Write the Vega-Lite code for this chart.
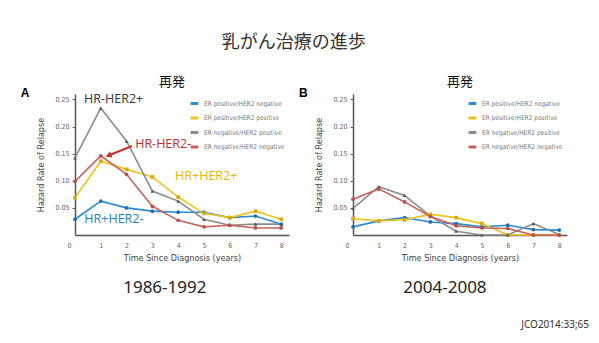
{
  "$schema": "https://vega.github.io/schema/vega-lite/v6.json",
  "background": "white",
  "padding": {"left": 20, "top": 33, "right": 5, "bottom": 5},
  "datasets": {
    "a": [
      {"t":0,"rate":0.029,"group":"ER positive/HER2 negative"},
      {"t":1,"rate":0.0625,"group":"ER positive/HER2 negative"},
      {"t":2,"rate":0.050,"group":"ER positive/HER2 negative"},
      {"t":3,"rate":0.044,"group":"ER positive/HER2 negative"},
      {"t":4,"rate":0.042,"group":"ER positive/HER2 negative"},
      {"t":5,"rate":0.042,"group":"ER positive/HER2 negative"},
      {"t":6,"rate":0.032,"group":"ER positive/HER2 negative"},
      {"t":7,"rate":0.035,"group":"ER positive/HER2 negative"},
      {"t":8,"rate":0.020,"group":"ER positive/HER2 negative"},
      {"t":0,"rate":0.069,"group":"ER positive/HER2 positive"},
      {"t":1,"rate":0.136,"group":"ER positive/HER2 positive"},
      {"t":2,"rate":0.121,"group":"ER positive/HER2 positive"},
      {"t":3,"rate":0.107,"group":"ER positive/HER2 positive"},
      {"t":4,"rate":0.070,"group":"ER positive/HER2 positive"},
      {"t":5,"rate":0.040,"group":"ER positive/HER2 positive"},
      {"t":6,"rate":0.032,"group":"ER positive/HER2 positive"},
      {"t":7,"rate":0.044,"group":"ER positive/HER2 positive"},
      {"t":8,"rate":0.029,"group":"ER positive/HER2 positive"},
      {"t":0,"rate":0.142,"group":"ER negative/HER2 positive"},
      {"t":1,"rate":0.234,"group":"ER negative/HER2 positive"},
      {"t":2,"rate":0.173,"group":"ER negative/HER2 positive"},
      {"t":3,"rate":0.081,"group":"ER negative/HER2 positive"},
      {"t":4,"rate":0.0625,"group":"ER negative/HER2 positive"},
      {"t":5,"rate":0.029,"group":"ER negative/HER2 positive"},
      {"t":6,"rate":0.018,"group":"ER negative/HER2 positive"},
      {"t":7,"rate":0.020,"group":"ER negative/HER2 positive"},
      {"t":8,"rate":0.020,"group":"ER negative/HER2 positive"},
      {"t":0,"rate":0.099,"group":"ER negative/HER2 negative"},
      {"t":1,"rate":0.146,"group":"ER negative/HER2 negative"},
      {"t":2,"rate":0.112,"group":"ER negative/HER2 negative"},
      {"t":3,"rate":0.053,"group":"ER negative/HER2 negative"},
      {"t":4,"rate":0.027,"group":"ER negative/HER2 negative"},
      {"t":5,"rate":0.015,"group":"ER negative/HER2 negative"},
      {"t":6,"rate":0.018,"group":"ER negative/HER2 negative"},
      {"t":7,"rate":0.013,"group":"ER negative/HER2 negative"},
      {"t":8,"rate":0.013,"group":"ER negative/HER2 negative"}
    ],
    "b": [
      {"t":0,"rate":0.015,"group":"ER positive/HER2 negative"},
      {"t":1,"rate":0.026,"group":"ER positive/HER2 negative"},
      {"t":2,"rate":0.032,"group":"ER positive/HER2 negative"},
      {"t":3,"rate":0.024,"group":"ER positive/HER2 negative"},
      {"t":4,"rate":0.021,"group":"ER positive/HER2 negative"},
      {"t":5,"rate":0.015,"group":"ER positive/HER2 negative"},
      {"t":6,"rate":0.018,"group":"ER positive/HER2 negative"},
      {"t":7,"rate":0.010,"group":"ER positive/HER2 negative"},
      {"t":8,"rate":0.009,"group":"ER positive/HER2 negative"},
      {"t":0,"rate":0.030,"group":"ER positive/HER2 positive"},
      {"t":1,"rate":0.026,"group":"ER positive/HER2 positive"},
      {"t":2,"rate":0.028,"group":"ER positive/HER2 positive"},
      {"t":3,"rate":0.038,"group":"ER positive/HER2 positive"},
      {"t":4,"rate":0.032,"group":"ER positive/HER2 positive"},
      {"t":5,"rate":0.021,"group":"ER positive/HER2 positive"},
      {"t":6,"rate":0.0,"group":"ER positive/HER2 positive"},
      {"t":7,"rate":0.0,"group":"ER positive/HER2 positive"},
      {"t":8,"rate":0.0,"group":"ER positive/HER2 positive"},
      {"t":0,"rate":0.049,"group":"ER negative/HER2 positive"},
      {"t":1,"rate":0.089,"group":"ER negative/HER2 positive"},
      {"t":2,"rate":0.073,"group":"ER negative/HER2 positive"},
      {"t":3,"rate":0.035,"group":"ER negative/HER2 positive"},
      {"t":4,"rate":0.007,"group":"ER negative/HER2 positive"},
      {"t":5,"rate":0.0,"group":"ER negative/HER2 positive"},
      {"t":6,"rate":0.0,"group":"ER negative/HER2 positive"},
      {"t":7,"rate":0.021,"group":"ER negative/HER2 positive"},
      {"t":8,"rate":0.001,"group":"ER negative/HER2 positive"},
      {"t":0,"rate":0.066,"group":"ER negative/HER2 negative"},
      {"t":1,"rate":0.085,"group":"ER negative/HER2 negative"},
      {"t":2,"rate":0.061,"group":"ER negative/HER2 negative"},
      {"t":3,"rate":0.034,"group":"ER negative/HER2 negative"},
      {"t":4,"rate":0.017,"group":"ER negative/HER2 negative"},
      {"t":5,"rate":0.013,"group":"ER negative/HER2 negative"},
      {"t":6,"rate":0.012,"group":"ER negative/HER2 negative"},
      {"t":7,"rate":0.0,"group":"ER negative/HER2 negative"},
      {"t":8,"rate":0.0,"group":"ER negative/HER2 negative"}
    ],
    "labelsA": [
      {"t":1.5,"rate":0.25,"label":"HR-HER2+","c":"#333333"},
      {"t":3.42,"rate":0.167,"label":"HR-HER2-","c":"#c0302a"},
      {"t":5.09,"rate":0.108,"label":"HR+HER2+","c":"#e6b800"},
      {"t":1.51,"rate":0.029,"label":"HR+HER2-","c":"#1f7fc8"}
    ],
    "letterA": [{"t":-1.94,"rate":0.262,"label":"A"}],
    "letterB": [{"t":-1.93,"rate":0.262,"label":"B"}],
    "arrowA": [
      {"t":2.21,"rate":0.164,"t2":1.3,"rate2":0.1465}
    ]
  },
  "title": {"text": "JCO2014:33;65", "orient": "bottom", "anchor": "end", "font": "Noto Sans", "fontSize": 10, "fontWeight": "normal", "color": "#333", "offset": 24, "dx": 22},
  "vconcat": [
    {
      "title": {"text": "乳がん治療の進歩", "font": "Noto Sans CJK JP", "fontSize": 18, "fontWeight": "normal", "color": "#333", "anchor": "middle", "offset": 24},
      "spacing": 9,
      "resolve": {"scale": {"x": "independent", "y": "independent", "color": "independent", "fill": "independent", "shape": "independent"}, "legend": {"color": "independent"}},
      "hconcat": [
        {
          "title": {"text": "1986-1992", "orient": "bottom", "anchor": "middle", "font": "Noto Sans", "fontSize": 17, "fontWeight": "normal", "color": "#222", "offset": 18, "dx": 10},
          "resolve": {"legend": {"color": "independent"}},
          "vconcat": [
            {
              "title": {"text": "再発", "font": "Noto Sans CJK JP", "fontSize": 13, "fontWeight": "normal", "color": "#111", "anchor": "middle", "frame": "group", "dx": -10, "offset": -2},
              "width": 214, "height": 141,
              "layer": [
                {
                  "data": {"name": "a"},
                  "mark": {"type": "line", "strokeWidth": 1.6},
                  "encoding": {
                    "x": {"field": "t", "type": "quantitative", "scale": {"domain": [0, 8.3], "nice": false}, "axis": {"values": [0,1,2,3,4,5,6,7,8], "tickCount": 20, "format": "d", "labelOverlap": false, "title": "Time Since Diagnosis (years)", "ticks": false, "labelPadding": 6, "labelOffset": {"condition": {"test": "datum.value === 0", "value": -8}, "value": 0}}},
                    "y": {"field": "rate", "type": "quantitative", "scale": {"domain": [0, 0.26], "nice": false}, "axis": {"values": [0.05,0.1,0.15,0.2,0.25], "tickCount": 20, "labelOverlap": false, "format": ".2f", "title": "Hazard Rate of Relapse"}},
                    "color": {"field": "group", "type": "nominal", "scale": {"domain": ["ER positive/HER2 negative","ER positive/HER2 positive","ER negative/HER2 positive","ER negative/HER2 negative"], "range": ["#2b8bd4","#f0c21c","#8c8c8c","#c9625b"]}, "legend": {"title": null}}
                  }
                },
                {
                  "data": {"name": "a"},
                  "mark": {"type": "point", "filled": true, "size": 14, "opacity": 1},
                  "encoding": {
                    "x": {"field": "t", "type": "quantitative"},
                    "y": {"field": "rate", "type": "quantitative"},
                    "fill": {"field": "group", "type": "nominal", "scale": {"domain": ["ER positive/HER2 negative","ER positive/HER2 positive","ER negative/HER2 positive","ER negative/HER2 negative"], "range": ["#1c6fb0","#d9ad10","#555555","#b5504a"]}, "legend": null},
                    "shape": {"field": "group", "type": "nominal", "scale": {"domain": ["ER positive/HER2 negative","ER positive/HER2 positive","ER negative/HER2 positive","ER negative/HER2 negative"], "range": ["circle","square","triangle-up","circle"]}, "legend": null}
                  }
                },
                {
                  "data": {"name": "arrowA"},
                  "mark": {"type": "rule", "color": "#d0302a", "strokeWidth": 2.2},
                  "encoding": {
                    "x": {"field": "t", "type": "quantitative"},
                    "y": {"field": "rate", "type": "quantitative"},
                    "x2": {"field": "t2"},
                    "y2": {"field": "rate2"}
                  }
                },
                {
                  "data": {"name": "arrowA"},
                  "mark": {"type": "point", "shape": "triangle-up", "filled": true, "color": "#d0302a", "size": 45, "angle": 248, "opacity": 1},
                  "encoding": {
                    "x": {"field": "t2", "type": "quantitative"},
                    "y": {"field": "rate2", "type": "quantitative"}
                  }
                },
                {
                  "data": {"name": "labelsA"},
                  "mark": {"type": "text", "font": "Open Sans", "fontSize": 12.5},
                  "encoding": {
                    "x": {"field": "t", "type": "quantitative"},
                    "y": {"field": "rate", "type": "quantitative"},
                    "text": {"field": "label"},
                    "color": {"field": "c", "type": "nominal", "scale": null}
                  }
                },
                {
                  "data": {"name": "letterA"},
                  "mark": {"type": "text", "font": "Liberation Sans", "fontSize": 12, "fontWeight": "bold", "color": "#000"},
                  "encoding": {
                    "x": {"field": "t", "type": "quantitative"},
                    "y": {"field": "rate", "type": "quantitative"},
                    "text": {"field": "label"}
                  }
                }
              ]
            }
          ]
        },
        {
          "title": {"text": "2004-2008", "orient": "bottom", "anchor": "middle", "font": "Noto Sans", "fontSize": 17, "fontWeight": "normal", "color": "#222", "offset": 18, "dx": 12},
          "resolve": {"legend": {"color": "independent"}},
          "vconcat": [
            {
              "title": {"text": "再発", "font": "Noto Sans CJK JP", "fontSize": 13, "fontWeight": "normal", "color": "#111", "anchor": "middle", "frame": "group", "dx": 0, "offset": -2},
              "width": 214, "height": 141,
              "layer": [
                {
                  "data": {"name": "b"},
                  "mark": {"type": "line", "strokeWidth": 1.6},
                  "encoding": {
                    "x": {"field": "t", "type": "quantitative", "scale": {"domain": [0, 8.3], "nice": false}, "axis": {"values": [0,1,2,3,4,5,6,7,8], "tickCount": 20, "format": "d", "labelOverlap": false, "title": "Time Since Diagnosis (years)", "ticks": false, "labelPadding": 6, "labelOffset": {"condition": {"test": "datum.value === 0", "value": -8}, "value": 0}}},
                    "y": {"field": "rate", "type": "quantitative", "scale": {"domain": [0, 0.26], "nice": false}, "axis": {"values": [0.05,0.1,0.15,0.2,0.25], "tickCount": 20, "labelOverlap": false, "format": ".2f", "title": "Hazard Rate of Relapse"}},
                    "color": {"field": "group", "type": "nominal", "scale": {"domain": ["ER positive/HER2 negative","ER positive/HER2 positive","ER negative/HER2 positive","ER negative/HER2 negative"], "range": ["#2b8bd4","#f0c21c","#8c8c8c","#c9625b"]}, "legend": {"title": null}}
                  }
                },
                {
                  "data": {"name": "b"},
                  "mark": {"type": "point", "filled": true, "size": 14, "opacity": 1},
                  "encoding": {
                    "x": {"field": "t", "type": "quantitative"},
                    "y": {"field": "rate", "type": "quantitative"},
                    "fill": {"field": "group", "type": "nominal", "scale": {"domain": ["ER positive/HER2 negative","ER positive/HER2 positive","ER negative/HER2 positive","ER negative/HER2 negative"], "range": ["#1c6fb0","#d9ad10","#555555","#b5504a"]}, "legend": null},
                    "shape": {"field": "group", "type": "nominal", "scale": {"domain": ["ER positive/HER2 negative","ER positive/HER2 positive","ER negative/HER2 positive","ER negative/HER2 negative"], "range": ["circle","square","triangle-up","circle"]}, "legend": null}
                  }
                },
                {
                  "data": {"name": "letterB"},
                  "mark": {"type": "text", "font": "Liberation Sans", "fontSize": 12, "fontWeight": "bold", "color": "#000"},
                  "encoding": {
                    "x": {"field": "t", "type": "quantitative"},
                    "y": {"field": "rate", "type": "quantitative"},
                    "text": {"field": "label"}
                  }
                }
              ]
            }
          ]
        }
      ]
    }
  ],
  "config": {
    "view": {"stroke": null},
    "axis": {
      "grid": false,
      "domainColor": "#555",
      "domainWidth": 1.5,
      "labelColor": "#666",
      "labelFontSize": 7,
      "labelFont": "Liberation Sans Narrow, DejaVu Sans Condensed, sans-serif",
      "tickColor": "#666",
      "tickSize": 3,
      "titleColor": "#444",
      "titleFontSize": 9,
      "titleFontWeight": "normal",
      "titleFont": "Liberation Sans Narrow, DejaVu Sans Condensed, sans-serif",
      "titlePadding": 5
    },
    "axisY": {"titlePadding": 9, "labelPadding": 3},
    "legend": {
      "orient": "top-right",
      "offset": 4,
      "padding": 0,
      "labelFontSize": 6.5,
      "labelColor": "#777",
      "labelFont": "Liberation Sans Narrow, DejaVu Sans Condensed, sans-serif",
      "symbolType": "stroke",
      "symbolStrokeWidth": 3,
      "symbolSize": 60,
      "rowPadding": 1.5
    }
  }
}
